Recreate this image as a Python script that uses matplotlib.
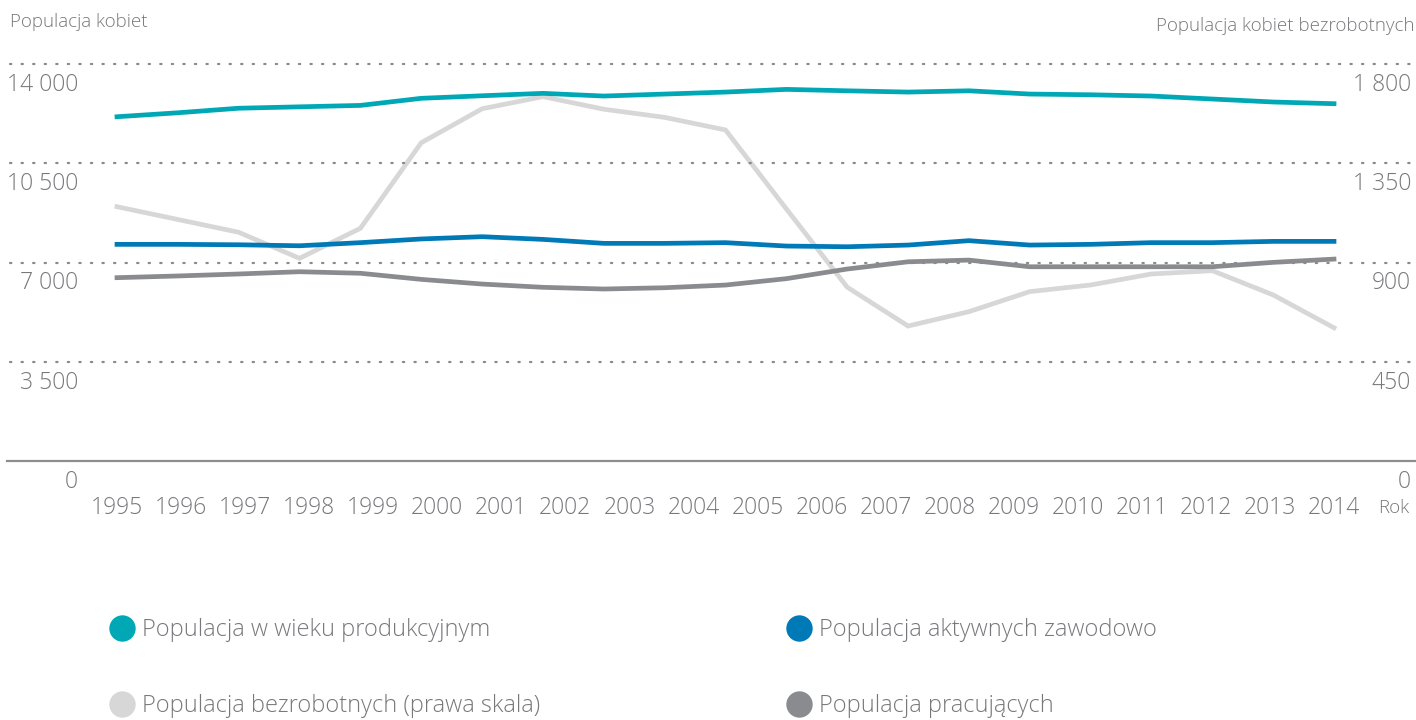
import numpy as np
import matplotlib
matplotlib.use("Agg")
import matplotlib.pyplot as plt
from matplotlib.transforms import blended_transform_factory
from matplotlib.lines import Line2D

plt.rcParams['font.family'] = ['Open Sans', 'DejaVu Sans']

# dane (tys. osób) - 21 punktów na osi, etykiety lat 1995-2014
years = [str(y) for y in range(1995, 2015)]
produkcyjny = [12140, 12280, 12440, 12490, 12540, 12790, 12880, 12965, 12870, 12940,
               13010, 13105, 13055, 13010, 13055, 12940, 12915, 12870, 12765, 12660, 12600]
aktywni = [7640, 7640, 7625, 7590, 7700, 7830, 7910, 7815, 7675, 7675,
           7700, 7580, 7555, 7615, 7770, 7615, 7640, 7700, 7700, 7745, 7745]
pracujacy = [6465, 6525, 6595, 6675, 6620, 6405, 6240, 6125, 6065, 6110,
             6205, 6430, 6770, 7025, 7085, 6850, 6850, 6850, 6850, 7005, 7120]
bezrobotni = [1153, 1095, 1037, 919, 1055, 1443, 1597, 1652, 1595, 1558,
              1501, 1143, 788, 612, 677, 768, 798, 848, 863, 753, 604]

left_ticks = [0, 3500, 7000, 10500, 14000]
left_labels = ['0', '3 500', '7 000', '10 500', '14 000']
right_labels = ['0', '450', '900', '1 350', '1 800']

c_teal = '#00a8b5'
c_blue = '#0079b7'
c_lgray = '#d7d7d7'
c_dgray = '#898b8f'
c_text = '#77787b'

W, H = 1416, 720
fig = plt.figure(figsize=(W / 100, H / 100), dpi=100)
ax = fig.add_axes([10 / W, (H - 461) / H, 1 - 10 / W, (461 - 50) / H])
ax2 = ax.twinx()
ax.set_zorder(2)
ax.patch.set_visible(False)

x = np.arange(len(produkcyjny))
px = 20 / 1217
ax.set_xlim(-(117 - 10) * px, 20 + (1416 - 1334) * px)
ytop = 14000 + 14 * 14000 / 397
ax.set_ylim(0, ytop)
ax2.set_ylim(0, ytop * 1800 / 14000)

lw = 3.4
ax2.plot(x, bezrobotni, color=c_lgray, lw=lw, solid_joinstyle='miter')
ax.plot(x, produkcyjny, color=c_teal, lw=lw)
ax.plot(x, pracujacy, color=c_dgray, lw=lw)
ax.plot(x, aktywni, color=c_blue, lw=lw)

# siatka kropkowana + linia bazowa
for v in left_ticks[1:]:
    ax.axhline(v, color='#8a8a8a', lw=1.6, ls=(0, (0.6, 4.6)), dash_capstyle='round',
               zorder=0, clip_on=False)
ax.axhline(0, color='#8d8e91', lw=1.6, xmin=-3 / 1406, zorder=1, clip_on=False)

for a in (ax, ax2):
    for s in a.spines.values():
        s.set_visible(False)
    a.set_xticks([])
    a.set_yticks([])

tr_l = blended_transform_factory(fig.transFigure, ax.transData)
for v, lab, rlab in zip(left_ticks, left_labels, right_labels):
    ax.annotate(lab, (78 / W, v), xycoords=tr_l, xytext=(0, -15), textcoords='offset points',
                ha='right', va='center', fontsize=16.5, color=c_text, fontweight='light')
    ax.annotate(rlab, (1411 / W, v), xycoords=tr_l, xytext=(0, -15), textcoords='offset points',
                ha='right', va='center', fontsize=16.5, color=c_text, fontweight='light')

# etykiety lat
tr_x = blended_transform_factory(ax.transData, fig.transFigure)
for i, lab in enumerate(years):
    ax.text(i * 20 / 19, 1 - 508 / H, lab, transform=tr_x, ha='center', va='center',
            fontsize=16.5, color=c_text, fontweight='light')
fig.text(1394 / W, 1 - 508 / H, 'Rok', ha='center', va='center', fontsize=13.5, color=c_text,
         fontweight='light')

fig.text(10 / W, 1 - 22 / H, 'Populacja kobiet', ha='left', va='center', fontsize=13.5,
         color=c_text, fontweight='light')
fig.text(1414 / W, 1 - 26 / H, 'Populacja kobiet bezrobotnych', ha='right', va='center',
         fontsize=13.5, color=c_text, fontweight='light')

# legenda
legend = [('Populacja w wieku produkcyjnym', c_teal, 122, 628),
          ('Populacja aktywnych zawodowo', c_blue, 799, 628),
          ('Populacja bezrobotnych (prawa skala)', c_lgray, 122, 704),
          ('Populacja pracujących', c_dgray, 799, 704)]
for lab, col, lx, ly in legend:
    fig.add_artist(Line2D([lx / W], [1 - ly / H], marker='o', ms=19, color=col, mec='none',
                          transform=fig.transFigure))
    fig.text((lx + 20) / W, 1 - (ly + 2) / H, lab, ha='left', va='center', fontsize=17,
             color=c_text, fontweight='light')

fig.savefig('out.png', dpi=100)
